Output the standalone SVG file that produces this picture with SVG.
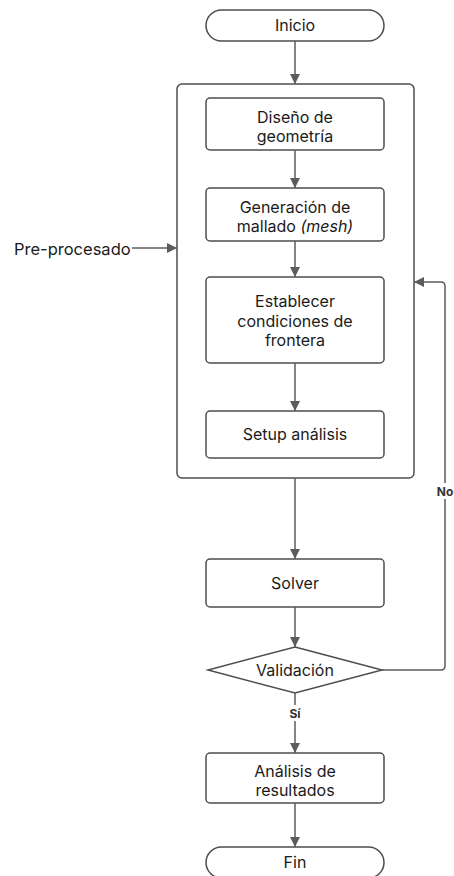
<svg xmlns="http://www.w3.org/2000/svg" width="454" height="876" viewBox="0 0 454 876">
<defs>
<marker id="ah" viewBox="0 0 10 10" refX="10" refY="5" markerWidth="10" markerHeight="10" markerUnits="userSpaceOnUse" orient="auto">
<path d="M0,0 L10,5 L0,10 z" fill="#5c5c5c"/>
</marker>
<style>
.n{fill:#fff;stroke:#4d4d4d;stroke-width:1.5}
.t{font-family:Inter,"Noto Sans","Liberation Sans",sans-serif;font-size:16px;fill:#1a1a1a;text-anchor:middle}
.l{font-family:Inter,"Noto Sans","Liberation Sans",sans-serif;font-size:12px;font-weight:bold;fill:#333;text-anchor:middle}
.c{fill:none;stroke:#5c5c5c;stroke-width:1.5;marker-end:url(#ah)}
</style>
</defs>
<rect width="454" height="876" fill="#fff"/>
<g id="group-preproc"><rect class="n" x="177" y="84" width="237" height="394" rx="5"/></g>
<g id="inicio"><rect class="n" x="206" y="10" width="178" height="31" rx="15.5"/><text class="t" x="295" y="31">Inicio</text></g>
<g id="diseno"><rect class="n" x="206" y="98" width="178" height="52" rx="4"/><text class="t" x="295" y="123">Diseño de</text><text class="t" x="295" y="142">geometría</text></g>
<g id="mallado"><rect class="n" x="206" y="188" width="178" height="53" rx="4"/><text class="t" x="295" y="213">Generación de</text><text class="t" x="295" y="232">mallado <tspan font-style="italic">(mesh)</tspan></text></g>
<g id="frontera"><rect class="n" x="206" y="277" width="178" height="86" rx="4"/><text class="t" x="295" y="307">Establecer</text><text class="t" x="295" y="326.5">condiciones de</text><text class="t" x="295" y="346">frontera</text></g>
<g id="setup"><rect class="n" x="206" y="411" width="178" height="47" rx="4"/><text class="t" x="295" y="440">Setup análisis</text></g>
<g id="solver"><rect class="n" x="206" y="559" width="178" height="48" rx="4"/><text class="t" x="295" y="589">Solver</text></g>
<g id="validacion"><polygon class="n" points="295,647 382,670 295,693 208,670"/><text class="t" x="295" y="676">Validación</text></g>
<g id="analisis"><rect class="n" x="206" y="753" width="178" height="50" rx="4"/><text class="t" x="295" y="777">Análisis de</text><text class="t" x="295" y="796">resultados</text></g>
<g id="fin"><rect class="n" x="206" y="847" width="178" height="31" rx="15.5"/><text class="t" x="295" y="868">Fin</text></g>
<g id="preproc-label"><text class="t" x="14" y="255" style="text-anchor:start;font-size:16.5px">Pre-procesado</text></g>
<g id="connectors">
<path class="c" d="M295,41 V84"/>
<path class="c" d="M295,150 V188"/>
<path class="c" d="M295,241 V277"/>
<path class="c" d="M295,363 V411"/>
<path class="c" d="M295,478 V559"/>
<path class="c" d="M295,607 V647"/>
<path class="c" d="M295,693 V753"/>
<path class="c" d="M295,803 V847"/>
<path class="c" d="M132,248 H177"/>
<path class="c" d="M382,670 H441 Q445,670 445,666 V286 Q445,282 441,282 H414"/>
<rect x="435" y="483" width="20" height="16" fill="#fff"/>
<text class="l" x="445" y="495.5">No</text>
<rect x="287" y="705" width="16" height="16" fill="#fff"/>
<text class="l" x="295" y="717.5">Sí</text>
</g>
</svg>
